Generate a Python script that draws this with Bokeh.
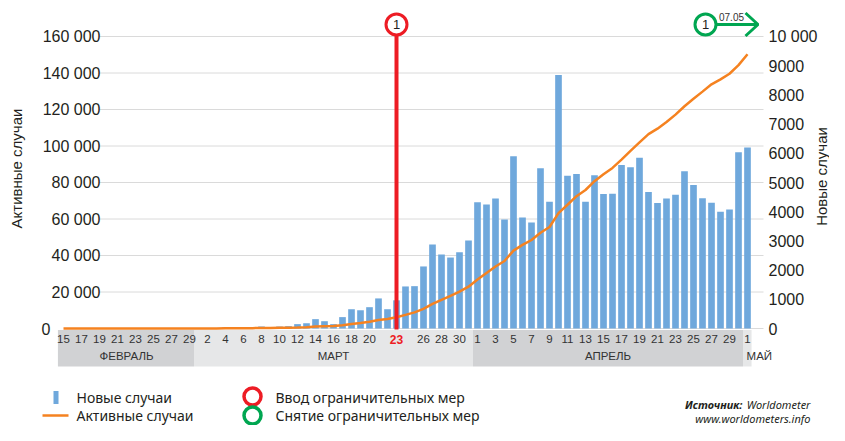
import math
import pandas as pd
from bokeh.plotting import figure
from bokeh.models import Range1d
from bokeh.core.properties import value
from bokeh.embed import file_html
from bokeh.resources import INLINE

# ---------------- data ----------------
dates = list(pd.date_range("2020-02-15", "2020-05-01", freq="D"))

new_cases = [
    # Feb 15 - Feb 29
    0, 0, 0, 0, 0, 0, 0, 0, 0, 0, 0, 0, 0, 4, 3,
    # March
    12, 4, 11, 34, 29, 48, 45, 69, 43, 67, 80, 150, 180, 320, 250, 150,
    390, 660, 625, 730, 1030, 660, 965, 1440, 1450, 2125, 2875, 2535, 2430, 2615, 3010,
    # April
    4324, 4244, 4450, 3735, 5903, 3802, 3634, 5491, 4344, 8681, 5233, 5288, 4342, 5252, 4603,
    4617, 5599, 5525, 5850, 4676, 4301, 4451, 4583, 5386, 4913, 4463, 4309, 3996, 4076, 6032,
    # May 1
    6201,
]

active_cases = [
    # Feb 15 - Feb 29
    8, 8, 8, 8, 8, 1, 1, 1, 1, 1, 1, 1, 5, 12, 15,
    # March
    27, 32, 43, 77, 106, 154, 198, 267, 299, 363, 440, 560, 750, 1050, 1280, 1420,
    1780, 2440, 3040, 3660, 4630, 5240, 6140, 7480, 8820, 10790, 13450, 15710, 17870, 20200, 22900,
    # April
    26800, 30400, 34000, 37000, 42700, 45800, 48500, 52500, 55600, 63200, 67800, 72500, 75900, 80700, 84500,
    88000, 92500, 97300, 102000, 106500, 109500, 113200, 117200, 121800, 125900, 129800, 133800, 136500, 139600, 144300,
    # May 1
    150300,
]

left_ticks = [0, 20000, 40000, 60000, 80000, 100000, 120000, 140000, 160000]
left_tick_labels = ["0", "20 000", "40 000", "60 000", "80 000", "100 000", "120 000", "140 000", "160 000"]
right_ticks = [0, 1000, 2000, 3000, 4000, 5000, 6000, 7000, 8000, 9000, 10000]
right_tick_labels = ["0", "1000", "2000", "3000", "4000", "5000", "6000", "7000", "8000", "9000", "10 000"]

month_names = {2: "ФЕВРАЛЬ", 3: "МАРТ", 4: "АПРЕЛЬ", 5: "МАЙ"}
labelled_days = {
    2: [15, 17, 19, 21, 23, 25, 27, 29],
    3: [2, 4, 6, 8, 10, 12, 14, 16, 18, 20, 26, 28, 30],
    4: [1, 3, 5, 7, 9, 11, 13, 15, 17, 19, 21, 23, 25, 27, 29],
    5: [1],
}
lockdown_day = (3, 23)
lift_label = "07.05"

# ---------------- layout helpers (canvas pixels -> data) ----------------
W, H = 829, 425
X0_PX, DX = 63.0, 9.0
Y0_PX, YPX = 328.0, 292.0 / 160000.0
RATIO = 16.0


def px(xp):
    return (xp - X0_PX) / DX


def py(yp):
    return (Y0_PX - yp) / YPX


idx = list(range(len(dates)))

FONT = value("Liberation Sans")
LFONT = value("Noto Sans")
DARK = "#231f20"
BLUE = "#6fa8dc"
ORANGE = "#f58220"
RED = "#ed1c24"
GREEN = "#00a651"

p = figure(width=W, height=H, output_backend="svg", toolbar_location=None,
           x_range=Range1d(px(0), px(W)), y_range=Range1d(py(H), py(0)),
           x_axis_location=None, y_axis_location=None,
           min_border_left=0, min_border_right=0, min_border_top=0, min_border_bottom=0,
           outline_line_color=None, background_fill_color="white", border_fill_color="white")
for g in p.grid:
    g.visible = False

p.extra_y_ranges = {"new": Range1d(py(H) / RATIO, py(0) / RATIO)}

# grid lines (left axis ticks)
p.segment(x0=[px(99)] * len(left_ticks), x1=[px(763)] * len(left_ticks),
          y0=left_ticks, y1=left_ticks, line_color="#dadada", line_width=1)

# left axis tick labels + title
p.text(x=[px(100)] * (len(left_ticks) - 1), y=left_ticks[1:], text=left_tick_labels[1:],
       text_align="right", text_baseline="middle", text_font=FONT,
       text_font_size="16px", text_color=DARK)
p.text(x=[px(50)], y=[left_ticks[0]], text=[left_tick_labels[0]],
       text_align="right", text_baseline="middle", text_font=FONT,
       text_font_size="16px", text_color=DARK)
p.text(x=[px(16)], y=[py(168)], text=["Активные случаи"], angle=math.pi / 2,
       text_align="center", text_baseline="middle", text_font=FONT,
       text_font_size="15px", text_color=DARK)

# right axis tick labels + title (on the "new cases" scale)
p.text(x=[px(768)] * len(right_ticks), y=right_ticks, text=right_tick_labels,
       text_align="left", text_baseline="middle", text_font=FONT,
       text_font_size="16px", text_color=DARK, y_range_name="new")
p.text(x=[px(821)], y=[py(176)], text=["Новые случаи"], angle=math.pi / 2,
       text_align="center", text_baseline="middle", text_font=FONT,
       text_font_size="15px", text_color=DARK)

# month bands
band_colors = {2: "#d1d2d4", 3: "#e6e7e8", 4: "#d1d2d4", 5: "#e6e7e8"}
b_left, b_right, b_col = [], [], []
for m in [2, 3, 4, 5]:
    ids = [i for i, d in enumerate(dates) if d.month == m]
    lo = ids[0] - 0.5 if m != 2 else ids[0] - 0.62
    hi = ids[-1] + 0.5 if m != 5 else ids[-1] + 0.45
    b_left.append(lo)
    b_right.append(hi)
    b_col.append(band_colors[m])
p.quad(left=b_left, right=b_right, bottom=py(366), top=py(329.5), fill_color=b_col, line_color=None)

# bars and line
p.vbar(x=idx, top=new_cases, width=0.74, bottom=0, fill_color=BLUE, line_color=None,
       y_range_name="new")
p.line(idx, active_cases, line_color=ORANGE, line_width=2.5)

# day labels
dl_x, dl_t = [], []
for i, d in enumerate(dates):
    if d.day in labelled_days[d.month]:
        dl_x.append(i)
        dl_t.append(str(d.day))
p.text(x=dl_x, y=[py(338)] * len(dl_x), text=dl_t, text_align="center", text_baseline="middle",
       text_font=FONT, text_font_size="11.5px", text_color="#333333")
hl = [i for i, d in enumerate(dates) if (d.month, d.day) == lockdown_day][0]
p.text(x=[hl], y=[py(338.5)], text=[str(lockdown_day[1])], text_align="center",
       text_baseline="middle", text_font=FONT, text_font_size="12px",
       text_font_style="bold", text_color=RED)

# month labels
for m in [2, 3, 4]:
    ids = [i for i, d in enumerate(dates) if d.month == m]
    p.text(x=[(ids[0] + ids[-1]) / 2], y=[py(355)], text=[month_names[m]], text_align="center",
           text_baseline="middle", text_font=FONT, text_font_size="11.5px", text_color="#333333")
may_i = [i for i, d in enumerate(dates) if d.month == 5][0]
p.text(x=[may_i - 0.1], y=[py(355)], text=[month_names[5]], text_align="left",
       text_baseline="middle", text_font=FONT, text_font_size="11.5px", text_color="#333333")

# lockdown marker (red)
p.segment(x0=[hl], x1=[hl], y0=[py(34)], y1=[py(329)], line_color=RED, line_width=4)
p.scatter(x=[hl], y=[py(24)], size=21, marker="circle", fill_color="white",
          line_color=RED, line_width=3)
p.text(x=[hl], y=[py(24)], text=["1"], text_align="center", text_baseline="middle",
       text_font=FONT, text_font_size="13px", text_color=DARK)

# lifting marker (green)
p.segment(x0=[px(716)], x1=[px(757)], y0=[py(24)], y1=[py(24)], line_color=GREEN, line_width=3)
p.line(x=[px(745), px(757.5), px(745)], y=[py(12.5), py(24), py(35.5)], line_color=GREEN,
       line_width=3)
p.scatter(x=[px(705)], y=[py(24)], size=21, marker="circle", fill_color="white",
          line_color=GREEN, line_width=3)
p.text(x=[px(705)], y=[py(24)], text=["1"], text_align="center", text_baseline="middle",
       text_font=FONT, text_font_size="13px", text_color=DARK)
p.text(x=[px(731)], y=[py(16)], text=[lift_label], text_align="center", text_baseline="middle",
       text_font=FONT, text_font_size="10px", text_color="#333333")

# legend
R1, R2 = 397, 415
p.rect(x=[px(55.5)], y=[py(R1)], width=5, height=13, width_units="screen", height_units="screen",
       fill_color=BLUE, line_color=None)
p.segment(x0=[px(42)], x1=[px(68)], y0=[py(R2)], y1=[py(R2)], line_color=ORANGE, line_width=2.5)
p.text(x=[px(76), px(76)], y=[py(R1), py(R2)], text=["Новые случаи", "Активные случаи"],
       text_align="left", text_baseline="middle", text_font=LFONT, text_font_size="14px",
       text_color=DARK)
p.scatter(x=[px(252), px(252)], y=[py(R1 - 1), py(R2)], size=17, marker="circle",
          fill_color="white", line_color=[RED, GREEN], line_width=3.5)
p.text(x=[px(275), px(275)], y=[py(R1), py(R2)],
       text=["Ввод ограничительных мер", "Снятие ограничительных мер"],
       text_align="left", text_baseline="middle", text_font=LFONT, text_font_size="14px",
       text_color=DARK)

# source
p.text(x=[px(742)], y=[py(404)], text=["Источник:"], text_align="right", text_baseline="middle",
       text_font=LFONT, text_font_size="11px", text_font_style="bold italic", text_color=DARK)
p.text(x=[px(810)], y=[py(404)], text=["Worldometer"], text_align="right", text_baseline="middle",
       text_font=LFONT, text_font_size="11px", text_font_style="italic", text_color=DARK)
p.text(x=[px(810)], y=[py(418)], text=["www.worldometers.info"], text_align="right",
       text_baseline="middle", text_font=LFONT, text_font_size="11px", text_font_style="italic",
       text_color=DARK)

open("out.html", "w").write(file_html(p, INLINE))
